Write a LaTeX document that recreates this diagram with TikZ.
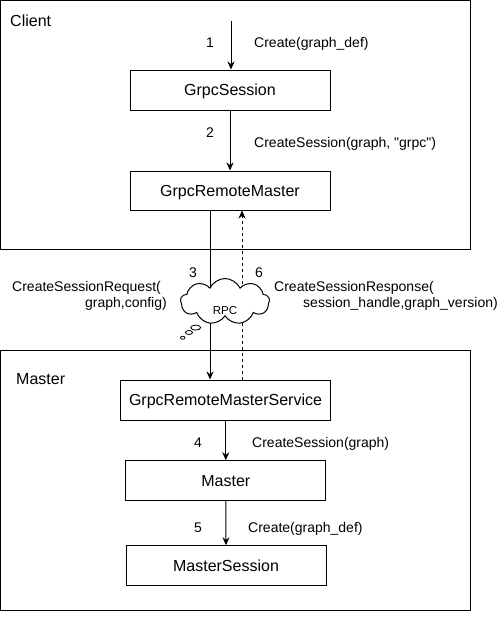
\documentclass[tikz,border=0pt]{standalone}
\usepackage{fontspec}
\setmainfont{Liberation Sans}[Ligatures=TeXOff]
\usetikzlibrary{shapes.symbols,shapes.geometric,arrows.meta}
\begin{document}
\begin{tikzpicture}[x=1pt,y=-1pt,
 container/.style={draw,line width=1pt},
 procbox/.style={draw,line width=1pt,minimum width=200pt,minimum height=40pt,inner sep=0pt,font=\fontsize{16}{18}\selectfont,text height=11.5pt,text depth=0pt},
 lbl/.style={inner sep=0pt,font=\fontsize{14}{16}\selectfont},
 title/.style={inner sep=0pt,font=\fontsize{16}{18}\selectfont},
 flow/.style={line width=1pt,-{Stealth[length=8pt,width=7pt]}},
 reply/.style={flow,dash pattern=on 3pt off 3pt},
 bubble/.style={draw,ellipse,line width=0.8pt,fill=white,inner sep=0pt}]
\useasboundingbox (0,0) rectangle (501,619);
\fill[white] (0,0) rectangle (501,619);
% containers
\draw[container] (0.5,0.5) rectangle (470,249);
\draw[container] (0.5,350) rectangle (470,610);
\node[title,anchor=base west] (clientlbl) at (10,26) {Client};
\node[title,anchor=base west] (masterlbl) at (16,384) {Master};
% boxes
\node[procbox] (gs) at (230,90) {GrpcSession};
\node[procbox,minimum height=39pt] (grm) at (230,190.5) {GrpcRemoteMaster};
\node[procbox,minimum width=210pt] (grms) at (225.5,400) {GrpcRemoteMasterService};
\node[procbox,minimum height=39.5pt] (mst) at (225.8,480.5) {Master};
\node[procbox,minimum height=39.5pt] (ms) at (226,565.5) {MasterSession};
% connectors
\coordinate (start) at (231,21);
\coordinate (reqx) at (210,0);
\coordinate (respx) at (242,0);
\draw[flow] (start) -- (start |- gs.north);
\draw[flow] (gs.south) -- (gs.south |- grm.north);
\draw[flow] (grm.south -| reqx) -- (grms.north -| reqx);
\draw[reply] (grms.north -| respx) -- (grm.south -| respx);
\draw[flow] (grms.south -| mst.north) -- (mst.north);
\draw[flow] (mst.south) -- (ms.north);
% cloud
\node[cloud,draw,fill=white,line width=1pt,cloud puffs=9,cloud puff arc=130,aspect=2,minimum width=89pt,minimum height=46pt,inner sep=0pt] (rpc) at (225,301.5) {};
\node[inner sep=0pt,font=\fontsize{11.5}{13}\selectfont,anchor=base] (rpctext) at (225,314) {RPC};
\node[bubble,minimum width=10pt,minimum height=5pt] (b1) at (195.7,327.6) {};
\node[bubble,minimum width=7pt,minimum height=4pt] (b2) at (189,332.5) {};
\node[bubble,minimum width=4.5pt,minimum height=3pt] (b3) at (182.7,337.7) {};
% labels
\node[lbl,anchor=base] (n1) at (210,47) {1};
\node[lbl,anchor=base west] (l1) at (254,47) {Create(graph\_def)};
\node[lbl,anchor=base] (n2) at (210,137) {2};
\node[lbl,anchor=base west] (l2) at (254,147) {CreateSession(graph, "grpc")};
\node[lbl,anchor=base] (n3) at (193,277) {3};
\node[lbl,anchor=base] (n6) at (259,277) {6};
\node[lbl,anchor=base west] (req1) at (12,291) {CreateSessionRequest(};
\node[lbl,anchor=base east] (req2) at (167,307) {graph,config)};
\node[lbl,anchor=base west] (resp1) at (274,291) {CreateSessionResponse(};
\node[lbl,anchor=base east] (resp2) at (498,307) {session\_handle,graph\_version)};
\node[lbl,anchor=base] (n4) at (198,447) {4};
\node[lbl,anchor=base west] (l4) at (252,447) {CreateSession(graph)};
\node[lbl,anchor=base] (n5) at (198,532) {5};
\node[lbl,anchor=base west] (l5) at (248,532) {Create(graph\_def)};
\end{tikzpicture}
\end{document}
